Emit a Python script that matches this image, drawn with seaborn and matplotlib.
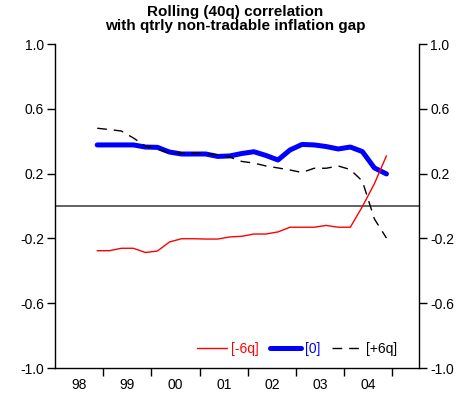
import numpy as np
import pandas as pd
import matplotlib
matplotlib.use("Agg")
import matplotlib.pyplot as plt
import seaborn as sns

# ---- data (quarterly, 1998Q4 .. 2004Q4) ----
years = [1998] + [y for y in range(1999, 2005) for _ in range(4)]
quarters = [4] + [q for _ in range(1999, 2005) for q in (1, 2, 3, 4)]
lag_minus6 = [-0.276, -0.276, -0.261, -0.261, -0.287, -0.278, -0.222, -0.202,
              -0.202, -0.204, -0.204, -0.191, -0.187, -0.173, -0.173, -0.160,
              -0.131, -0.131, -0.131, -0.120, -0.131, -0.131, -0.004, 0.138, 0.310]
lag_0 = [0.377, 0.377, 0.377, 0.377, 0.364, 0.362, 0.333, 0.321,
         0.321, 0.321, 0.306, 0.309, 0.324, 0.335, 0.312, 0.284,
         0.346, 0.380, 0.377, 0.367, 0.352, 0.364, 0.336, 0.235, 0.198]
lag_plus6 = [0.480, 0.472, 0.463, 0.420, 0.370, 0.352, 0.325, 0.325,
             0.325, 0.325, 0.315, 0.302, 0.275, 0.265, 0.247, 0.235,
             0.222, 0.207, 0.233, 0.233, 0.247, 0.225, 0.154, -0.080, -0.198]
series_names = ["[-6q]", "[0]", "[+6q]"]
year_labels = ["98", "99", "00", "01", "02", "03", "04"]
ytick_vals = [1.0, 0.6, 0.2, -0.2, -0.6, -1.0]

t = [y + (q - 0.5) / 4 for y, q in zip(years, quarters)]
df = pd.DataFrame({"t": t, "[-6q]": lag_minus6, "[0]": lag_0, "[+6q]": lag_plus6})

sns.set_theme(style="white")
plt.rcParams["font.family"] = ["Liberation Sans", "DejaVu Sans"]
plt.rcParams["axes.unicode_minus"] = False
plt.rcParams["text.color"] = "black"
plt.rcParams["xtick.color"] = "black"
plt.rcParams["ytick.color"] = "black"
plt.rcParams["xtick.labelcolor"] = "black"
plt.rcParams["ytick.labelcolor"] = "black"

fig = plt.figure(figsize=(4.61, 4.01), dpi=100)
ax = fig.add_axes([55 / 461, 33 / 401, 364 / 461, 324 / 401])

ax.axhline(0, color="#555555", lw=1.3, zorder=1)
sns.lineplot(data=df, x="t", y="[-6q]", ax=ax, color="#ff0000", lw=1.0, label="[-6q]", zorder=3)
sns.lineplot(data=df, x="t", y="[0]", ax=ax, color="#0000ff", lw=3.6, label="[0]", zorder=2)
sns.lineplot(data=df, x="t", y="[+6q]", ax=ax, color="black", lw=1.0, label="[+6q]",
             dashes=False, zorder=4)
ax.lines[-1].set_dashes([7, 5])

ax.set_xlim(1998.0, 2005.55)
ax.set_ylim(-1.0, 1.0)
ax.set_xlabel("")
ax.set_ylabel("")

# x: labels at mid-year, ticks at year boundaries
ax.set_xticks([1998.5 + i for i in range(len(year_labels))])
ax.set_xticklabels(year_labels, fontsize=10)
ax.set_xticks(list(range(1999, 2006)), minor=True)
ax.tick_params(axis="x", which="major", length=0, pad=7, labelcolor="black")
ax.tick_params(axis="x", which="minor", length=6, width=1, direction="out", color="black", bottom=True)

ax.set_yticks(ytick_vals)
ax.set_yticklabels([f"{v:.1f}" for v in ytick_vals], fontsize=10)
ax.tick_params(axis="y", which="major", length=6, width=1, direction="out", color="black",
               left=True, right=True, labelleft=True, labelright=True, pad=2, labelcolor="black")

for side in ["left", "right", "bottom"]:
    ax.spines[side].set_visible(True)
    ax.spines[side].set_color("black")
    ax.spines[side].set_linewidth(1.0)
ax.spines["top"].set_visible(False)

leg = ax.legend(loc="lower right", bbox_to_anchor=(0.975, 0.0), ncol=3, frameon=False,
                fontsize=10, handlelength=2.2, handletextpad=0.3, columnspacing=0.8)
for txt, col in zip(leg.get_texts(), ["#ff0000", "#0000ff", "black"]):
    txt.set_color(col)

fig.text(235 / 461, 1 - 19 / 401, "Rolling (40q) correlation\nwith qtrly non-tradable inflation gap",
         ha="center", va="center", fontsize=11, fontweight="bold", linespacing=1.05,
         color="black")

fig.savefig("out.png", dpi=100)
